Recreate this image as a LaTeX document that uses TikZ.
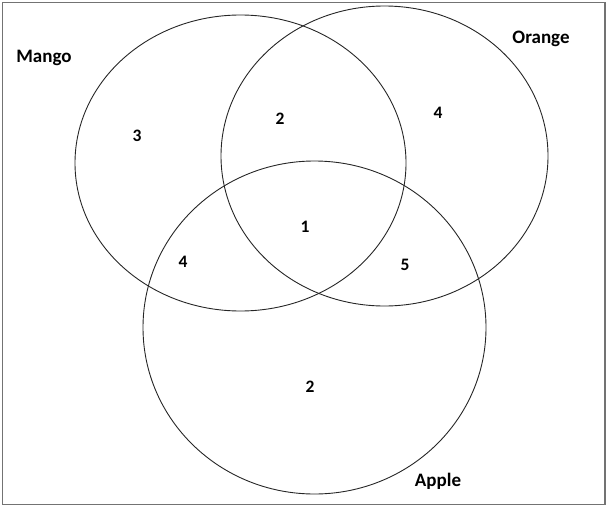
\documentclass[tikz,border=0pt]{standalone}
\usepackage{fontspec}
\setmainfont{Carlito}
\usetikzlibrary{shapes.geometric}
\begin{document}
\begin{tikzpicture}[x=1pt,y=-1pt,
  setline/.style={draw=black!85,line width=0.9pt},
  lbl/.style={font=\fontsize{19}{22}\selectfont\bfseries,inner sep=0pt},
  num/.style={font=\fontsize{17.5}{20}\selectfont\bfseries,inner sep=0pt}]
\useasboundingbox (0,0) rectangle (608,506);
\draw[draw=black!55,line width=1.2pt] (2.5,2.5) rectangle (605,504.5);
\node[setline,ellipse,minimum width=331pt,minimum height=296pt,inner sep=0pt] (mango) at (240.5,163) {};
\node[setline,ellipse,minimum width=327pt,minimum height=300pt,inner sep=0pt] (orange) at (384.5,156) {};
\node[setline,ellipse,minimum width=343pt,minimum height=333pt,inner sep=0pt] (apple) at (314.5,327.5) {};
\node[lbl] (lmango) at (44,57.5) {Mango};
\node[lbl] (lorange) at (541,38.5) {Orange};
\node[lbl] (lapple) at (438,481.5) {Apple};
\node[num] (n1) at (137,136) {3};
\node[num] (n2) at (280,119) {2};
\node[num] (n3) at (438,113) {4};
\node[num] (n4) at (305,227) {1};
\node[num] (n5) at (183,262) {4};
\node[num] (n6) at (405,265) {5};
\node[num] (n7) at (310,387) {2};
\end{tikzpicture}
\end{document}
